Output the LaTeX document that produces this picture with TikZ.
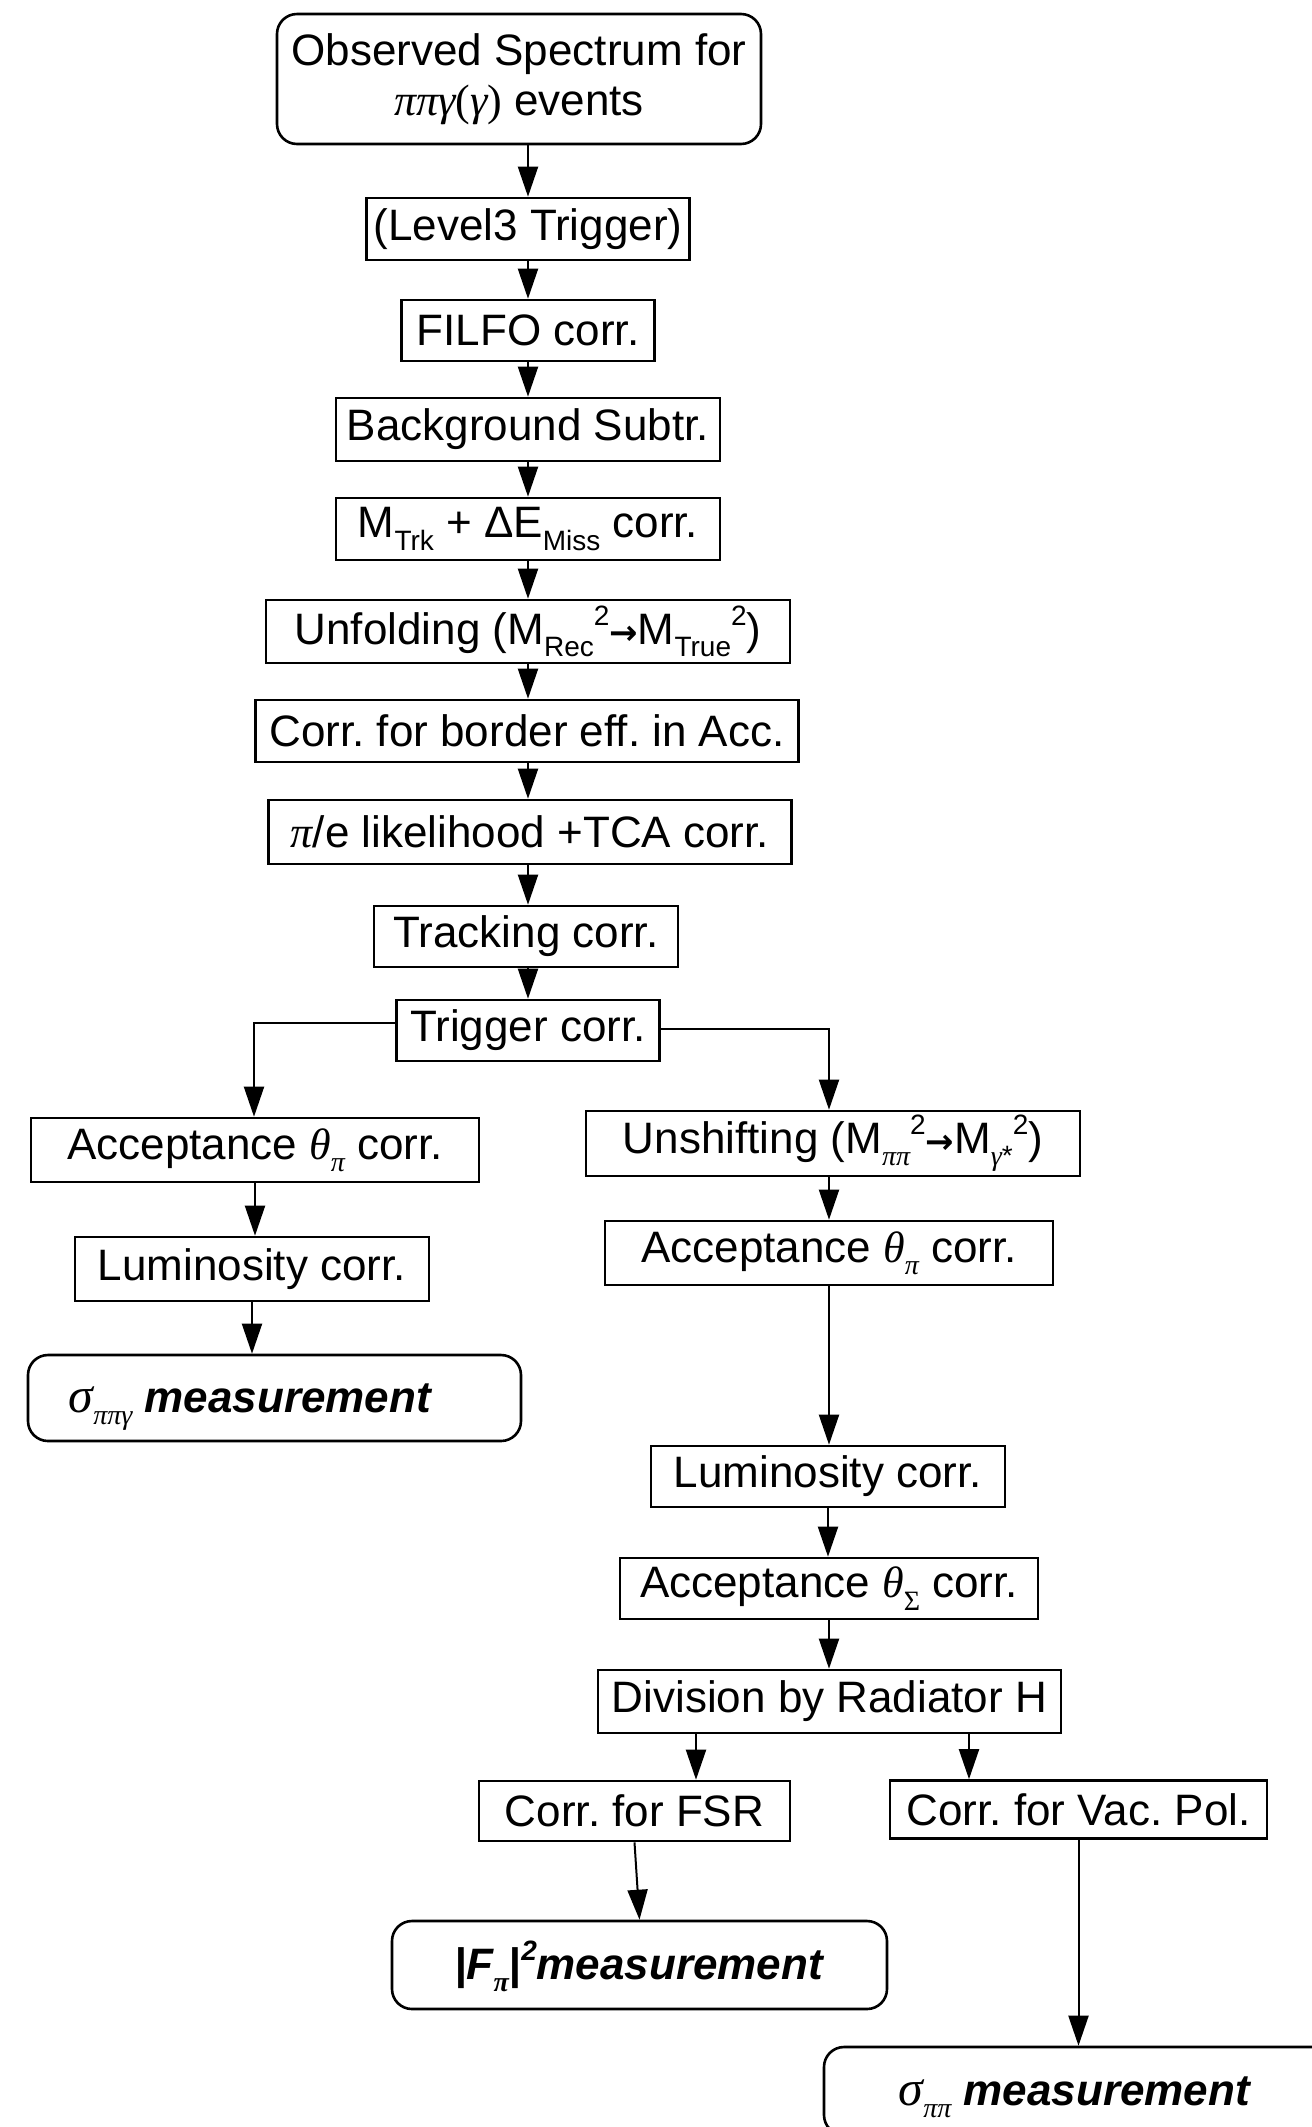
\documentclass[tikz,border=0pt]{standalone}
\usepackage{fontspec}
\setmainfont{Liberation Sans}
\newfontfamily\grkfont{Liberation Serif}
\newfontfamily\arrowfont{DejaVu Sans}
\usetikzlibrary{arrows.meta}

% Greek letters in serif italic, upright serif symbols
\newcommand\gi[1]{{\grkfont\itshape #1}}
\newcommand\gu[1]{{\grkfont #1}}
% small lowered / raised text
\newcommand\lo[1]{\raisebox{-0.28em}{\fontsize{14}{14}\selectfont #1}}
\newcommand\hi[1]{\raisebox{0.42em}{\fontsize{14}{14}\selectfont #1}}
% mapping arrow inside the labels
\newcommand\maparrow{{\arrowfont\bfseries\fontsize{17}{17}\selectfont →}}

\tikzset{
  stepbox/.style={draw, line width=1.3pt, inner sep=0pt, align=center,
    font=\fontsize{22}{25}\selectfont},
  resultbox/.style={stepbox, rounded corners=10pt},
  measbox/.style={resultbox, text height=14pt, text depth=0pt},
  arr/.style={line width=1pt, -{Triangle[length=15pt,width=10pt]}},
}

\begin{document}
\frenchspacing
\begin{tikzpicture}[x=0.5pt,y=-0.5pt]
\useasboundingbox (0,0) rectangle (1312,2127);
\fill[white] (0,0) rectangle (1312,2127);

% main chain
\node[resultbox, minimum width=242pt, minimum height=65pt] (obs) at (519,79)
  {Observed Spectrum for\\ \gi{ππγ}\gu{(}\gi{γ}\gu{)} events};
\node[stepbox, minimum width=161.5pt, minimum height=31pt] (l3) at (528,229) {(Level3 Trigger)};
\node[stepbox, minimum width=126.5pt, minimum height=30.5pt] (filfo) at (528,330.5) {FILFO corr.};
\node[stepbox, minimum width=192pt, minimum height=31.5pt] (bkg) at (528,429.5) {Background Subtr.};
\node[stepbox, minimum width=192pt, minimum height=31pt] (mtrk) at (528,529)
  {M\lo{Trk} + ΔE\lo{Miss} corr.};
\node[stepbox, minimum width=262pt, minimum height=31.5pt] (unf) at (528,631.5)
  {Unfolding (M\lo{Rec}\hi{2}\maparrow M\lo{True}\hi{2})};
\node[stepbox, minimum width=271.5pt, minimum height=31pt] (bord) at (527,731)
  {Corr. for border eff. in Acc.};
\node[stepbox, minimum width=261.5pt, minimum height=32pt] (pie) at (530,832)
  {\gi{π}/e likelihood +TCA corr.};
\node[stepbox, minimum width=152pt, minimum height=30.5pt] (trk) at (526,936.5) {Tracking corr.};
\node[stepbox, minimum width=131.5pt, minimum height=30.5pt] (trg) at (528,1030.5) {Trigger corr.};

% left branch
\node[stepbox, minimum width=224pt, minimum height=32pt] (accL) at (255,1150)
  {Acceptance \gi{θ}\lo{\gi{π}} corr.};
\node[stepbox, minimum width=177pt, minimum height=32pt] (lumL) at (252,1269) {Luminosity corr.};
\node[measbox, minimum width=246.5pt, minimum height=43pt] (sigL) at (274.5,1398)
  {{\fontsize{25}{25}\selectfont\gi{σ}}\lo{\gi{ππγ}} \textbf{\textit{measurement}}\hspace*{24pt}};

% right branch
\node[stepbox, minimum width=247pt, minimum height=32.5pt] (unsh) at (833,1143.5)
  {Unshifting (M\lo{\gi{ππ}}\hi{2}\maparrow M\lo{\gi{γ}*}\hi{2})};
\node[stepbox, minimum width=224pt, minimum height=32pt] (accR) at (829,1253)
  {Acceptance \gi{θ}\lo{\gi{π}} corr.};
\node[stepbox, minimum width=177pt, minimum height=30.5pt] (lumR) at (828,1476.5) {Luminosity corr.};
\node[stepbox, minimum width=209pt, minimum height=30.5pt] (accS) at (829,1588.5)
  {Acceptance \gi{θ}\lo{\gu{Σ}} corr.};
\node[stepbox, minimum width=231.5pt, minimum height=31.5pt] (div) at (829.5,1701.5)
  {Division by Radiator H};
\node[stepbox, minimum width=155.5pt, minimum height=30pt] (fsr) at (634.5,1811) {Corr. for FSR};
\node[stepbox, minimum width=188.5pt, minimum height=29pt] (vac) at (1078.5,1809.5) {Corr. for Vac. Pol.};
\node[measbox, minimum width=247.5pt, minimum height=44pt] (ff) at (639.5,1965)
  {\textbf{\textit{|F\lo{\gi{π}}|\hi{2}measurement}}};
\node[measbox, minimum width=258pt, minimum height=44pt] (sigR) at (1082,2091)
  {{\fontsize{25}{25}\selectfont\gi{σ}}\lo{\gi{ππ}} \textbf{\textit{measurement}}\hspace*{7pt}};

% connectors along the main chain
\draw[arr] (l3.north |- obs.south) -- (l3.north);
\draw[arr] (l3) -- (filfo);
\draw[arr] (filfo) -- (bkg);
\draw[arr] (bkg) -- (mtrk);
\draw[arr] (mtrk) -- (unf);
\draw[arr] (unf.south) -- (unf.south |- bord.north);
\draw[arr] (bord.south -| unf.south) -- (unf.south |- pie.north);
\draw[arr] (pie.south -| unf.south) -- (unf.south |- trk.north);
\draw[arr] (trk.south -| unf.south) -- (trg.north);

% split after the trigger correction
\draw[arr] ([yshift=3.75pt]trg.west) -| ([xshift=-0.5pt]accL.north);
\draw[arr] ([yshift=0.75pt]trg.east) -| ([xshift=-2pt]unsh.north);

% left branch connectors
\draw[arr] (accL.south) -- (accL.south |- lumL.north);
\draw[arr] (lumL.south) -- (lumL.south |- sigL.north);

% right branch connectors
\draw[arr] ([xshift=-2pt]unsh.south) -- ([xshift=-2pt]unsh.south |- accR.north);
\draw[arr] (accR.south) -- (accR.south |- lumR.north);
\draw[arr] (lumR.south) -- (lumR.south |- accS.north);
\draw[arr] (accS.south) -- (accS.south |- div.north);
\draw[arr] ([xshift=-66.75pt]div.south) -- ([xshift=-66.75pt]div.south |- fsr.north);
\draw[arr] ([xshift=69.75pt]div.south) -- ([xshift=69.75pt]div.south |- vac.north);
\draw[arr] (fsr.south) -- (ff.north);
\draw[arr] (vac.south) -- (vac.south |- sigR.north);
\end{tikzpicture}
\end{document}
